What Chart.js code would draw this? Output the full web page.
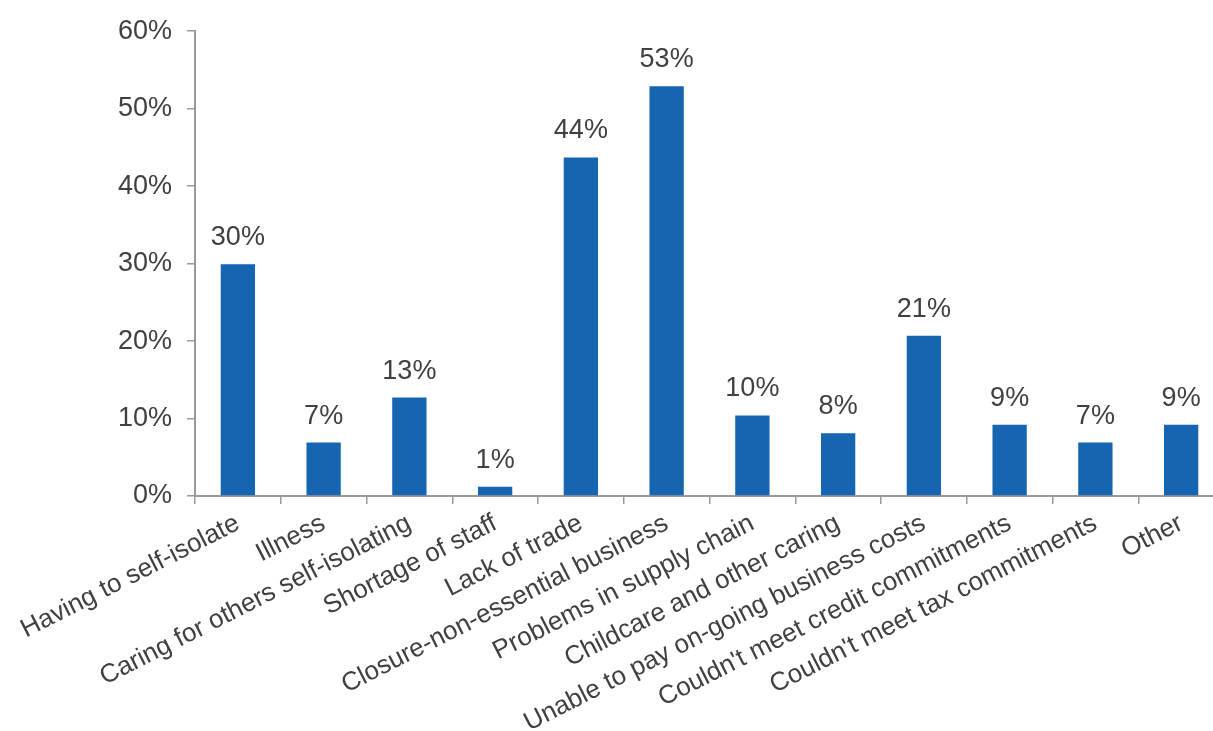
<!DOCTYPE html>
<html lang="en">
<head>
    <meta charset="UTF-8">
    <title>Reasons for business disruption</title>
    <style>
        * { margin: 0; padding: 0; box-sizing: border-box; }
        body { background: #fff; overflow: hidden; width: 1213px; height: 731px; }
        .chart-box { position: relative; width: 1226px; height: 731px; }
    </style>
</head>
<body>
    <div class="chart-box">
        <canvas id="reasonsChart"></canvas>
    </div>

    <script src="https://cdn.jsdelivr.net/npm/chart.js"></script>
    <script>
        const categories = [
            'Having to self-isolate',
            'Illness',
            'Caring for others self-isolating',
            'Shortage of staff',
            'Lack of trade',
            'Closure-non-essential business',
            'Problems in supply chain',
            'Childcare and other caring',
            'Unable to pay on-going business costs',
            "Couldn't meet credit commitments",
            "Couldn't meet tax commitments",
            'Other'
        ];
        const shares = [29.9, 6.9, 12.7, 1.2, 43.7, 52.9, 10.4, 8.1, 20.7, 9.2, 6.9, 9.2];
        const yTicks = [0, 10, 20, 30, 40, 50, 60];

        const textColor = '#404040';
        const axisColor = '#999999';
        const fontFamily = '"Liberation Sans", Arial, sans-serif';
        const fontSize = 27;

        // draws the % labels above each bar
        const barLabels = {
            id: 'barLabels',
            afterDatasetsDraw(chart) {
                const ctx = chart.ctx;
                const meta = chart.getDatasetMeta(0);
                ctx.save();
                ctx.font = fontSize + 'px ' + fontFamily;
                ctx.fillStyle = textColor;
                ctx.textAlign = 'center';
                ctx.textBaseline = 'bottom';
                meta.data.forEach((bar, i) => {
                    ctx.fillText(Math.round(shares[i]) + '%', bar.x, bar.y - 13);
                });
                ctx.restore();
            }
        };

        const ctx = document.getElementById('reasonsChart').getContext('2d');
        new Chart(ctx, {
            type: 'bar',
            data: {
                labels: categories,
                datasets: [{
                    data: shares,
                    backgroundColor: '#1565B0',
                    borderWidth: 0,
                    barPercentage: 0.4,
                    categoryPercentage: 1
                }]
            },
            options: {
                responsive: true,
                maintainAspectRatio: false,
                animation: false,
                layout: { padding: { top: 28, left: 0, right: 2, bottom: 0 } },
                plugins: {
                    legend: { display: false },
                    tooltip: { enabled: false }
                },
                scales: {
                    x: {
                        grid: {
                            drawOnChartArea: false,
                            drawTicks: true,
                            tickLength: 8,
                            color: axisColor,
                            lineWidth: 1.5
                        },
                        border: { color: axisColor, width: 2 },
                        ticks: {
                            autoSkip: false,
                            maxRotation: 27,
                            minRotation: 27,
                            padding: 4,
                            color: textColor,
                            font: { family: fontFamily, size: 26 }
                        },
                        afterFit(scale) { scale.height = 235; }
                    },
                    y: {
                        min: 0,
                        max: 60,
                        afterBuildTicks(scale) {
                            scale.ticks = yTicks.map(v => ({ value: v }));
                        },
                        grid: {
                            drawOnChartArea: false,
                            drawTicks: true,
                            tickLength: 8,
                            color: axisColor,
                            lineWidth: 1.5
                        },
                        border: { color: axisColor, width: 2 },
                        ticks: {
                            padding: 15,
                            color: textColor,
                            font: { family: fontFamily, size: fontSize },
                            callback: v => v + '%'
                        },
                        afterFit(scale) { scale.width = 195; }
                    }
                }
            },
            plugins: [barLabels]
        });
    </script>
</body>
</html>
